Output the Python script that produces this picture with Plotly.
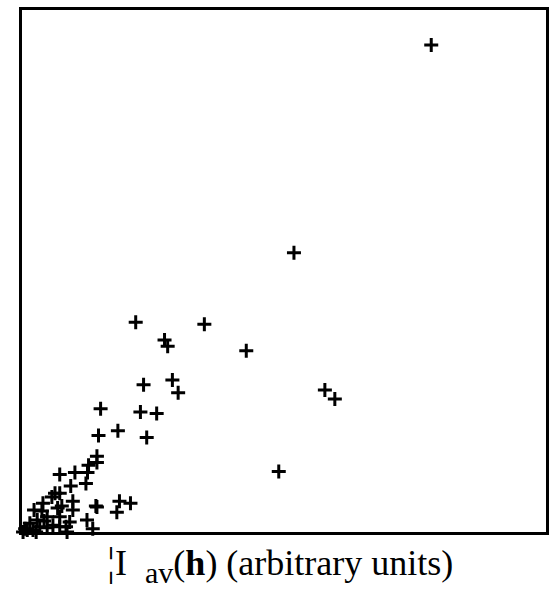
import plotly.graph_objects as go

# Scatter of measured values, both axes in arbitrary units
x_vals = [78.1, 51.9, 21.7, 34.8, 27.2, 27.8, 42.8, 28.7, 23.2, 29.8,
          57.8, 59.7, 15.0, 22.6, 25.7, 14.6, 18.3, 23.8, 49.0, 14.3,
          14.3, 12.7, 12.5, 7.2, 10.1, 9.3, 12.2, 6.3, 7.2, 9.7,
          14.1, 14.3, 18.6, 20.7, 18.1, 7.6, 6.8, 9.7, 4.0, 3.8,
          4.8, 12.4, 9.1, 7.2, 5.9, 8.4, 8.6, 13.5, 4.8, 2.3,
          2.9, 1.5, 1.0, 0.2, 2.1, 3.4, 5.7, 0.6, 2.7, 7.2, 4.2]
y_vals = [93.3, 53.5, 40.2, 39.8, 36.8, 35.6, 34.7, 29.1, 28.2, 26.7,
          27.2, 25.5, 23.6, 23.0, 22.7, 18.5, 19.4, 18.1, 11.6, 14.5,
          13.3, 12.8, 11.4, 11.0, 11.4, 8.8, 9.3, 7.4, 7.4, 5.9,
          5.0, 4.8, 5.9, 5.5, 3.8, 5.0, 4.6, 4.2, 5.5, 4.0,
          2.9, 2.3, 1.9, 2.9, 1.3, 1.0, 0.0, 0.6, 0.8, 4.2,
          2.3, 1.7, 0.4, 0.0, 0.4, 1.0, 6.7, 0.6, 0.0, 1.0, 2.1]

x_title = ("<span style='font-size:40px'>¦</span>I  "
           "<sub><span style='font-size:30px'>av</span></sub>"
           "(<b>h</b>) (arbitrary units)")

fig = go.Figure(
    go.Scatter(
        x=x_vals, y=y_vals, mode="markers",
        marker=dict(symbol="cross-thin", size=10,
                    line=dict(width=3, color="black"), color="black"),
        cliponaxis=False,
    )
)

axis_style = dict(showline=True, mirror=True, linewidth=2.5, linecolor="black",
                  showgrid=False, zeroline=False, showticklabels=False,
                  ticks="")

fig.update_layout(
    width=556, height=590,
    margin=dict(l=22, r=8, t=7, b=58),
    paper_bgcolor="white", plot_bgcolor="white",
    showlegend=False,
    font=dict(family="Times New Roman, Liberation Serif, serif"),
    xaxis=dict(range=[0, 100], **axis_style),
    yaxis=dict(range=[0, 100], **axis_style),
    annotations=[dict(
        text=x_title, xref="paper", yref="paper",
        x=0.492, y=-0.009, xanchor="center", yanchor="top",
        showarrow=False,
        font=dict(family="Times New Roman, Liberation Serif, serif",
                  size=36, color="black"),
    )],
)

fig.write_html("out.html")
